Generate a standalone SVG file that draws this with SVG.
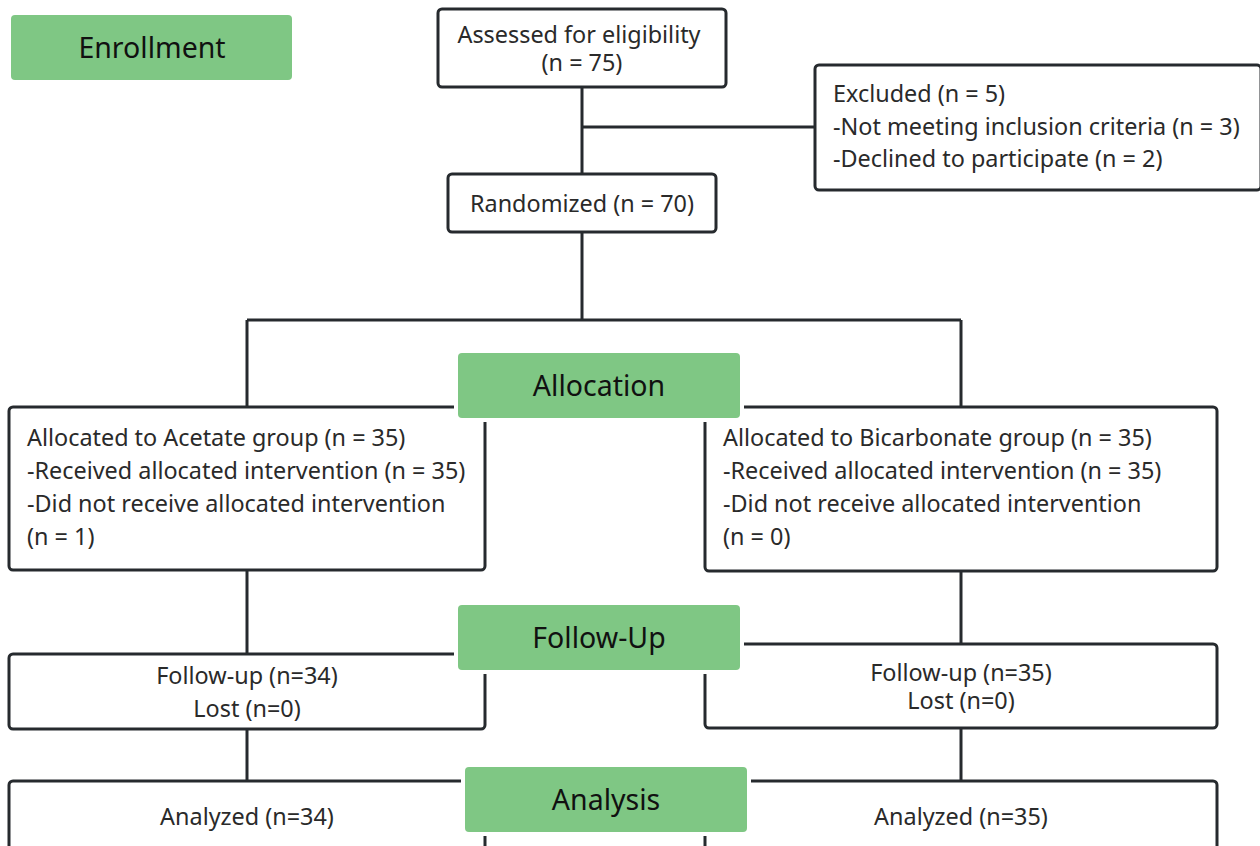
<svg xmlns="http://www.w3.org/2000/svg" width="1260" height="846" viewBox="0 0 1260 846">
<style>
.box{fill:#fff;stroke:#262a2e;stroke-width:3}
.ln{fill:none;stroke:#262a2e;stroke-width:3}
.lbl{fill:#7fc784;stroke:#fff;stroke-width:8;paint-order:stroke}
.t{font-family:"Noto Sans","Open Sans",sans-serif;font-size:23.4px;fill:#2a2a2a}
.h{font-family:"Noto Sans","Open Sans",sans-serif;font-size:28.5px;fill:#111;text-anchor:middle}
.c{text-anchor:middle}
</style>
<rect width="1260" height="846" fill="#fff"/>
<g id="connectors">
<path class="ln" d="M582 87V174M582 127H815M582 232V320M247 320H961M247 320V407M961 320V407M247 570V654M961 571V644M247 729V781M961 728V781"/>
</g>
<g id="assessed"><rect class="box" x="438" y="9" width="288" height="78" rx="4"/>
<text class="t c" x="579" y="43">Assessed for eligibility</text><text class="t c" x="582" y="71">(n = 75)</text></g>
<g id="excluded"><rect class="box" x="815" y="65" width="446" height="125" rx="4"/>
<text class="t" x="833" y="102">Excluded (n = 5)</text>
<text class="t" x="833" y="135">-Not meeting inclusion criteria (n = 3)</text>
<text class="t" x="833" y="167">-Declined to participate (n = 2)</text></g>
<g id="randomized"><rect class="box" x="448" y="174" width="268" height="58" rx="4"/>
<text class="t c" x="582" y="212">Randomized (n = 70)</text></g>
<g id="alloc-left"><rect class="box" x="9" y="407" width="476" height="163" rx="4"/>
<text class="t" x="27" y="446">Allocated to Acetate group (n = 35)</text>
<text class="t" x="27" y="479">-Received allocated intervention (n = 35)</text>
<text class="t" x="27" y="512">-Did not receive allocated intervention</text>
<text class="t" x="27" y="545">(n = 1)</text></g>
<g id="alloc-right"><rect class="box" x="705" y="407" width="512" height="164" rx="4"/>
<text class="t" x="723" y="446">Allocated to Bicarbonate group (n = 35)</text>
<text class="t" x="723" y="479">-Received allocated intervention (n = 35)</text>
<text class="t" x="723" y="512">-Did not receive allocated intervention</text>
<text class="t" x="723" y="545">(n = 0)</text></g>
<g id="follow-left"><rect class="box" x="9" y="654" width="476" height="75" rx="4"/>
<text class="t c" x="247" y="684">Follow-up (n=34)</text>
<text class="t c" x="247" y="717">Lost (n=0)</text></g>
<g id="follow-right"><rect class="box" x="705" y="644" width="512" height="84" rx="4"/>
<text class="t c" x="961" y="681">Follow-up (n=35)</text>
<text class="t c" x="961" y="709">Lost (n=0)</text></g>
<g id="analyzed-left"><rect class="box" x="9" y="781" width="476" height="80" rx="4"/>
<text class="t c" x="247" y="825">Analyzed (n=34)</text></g>
<g id="analyzed-right"><rect class="box" x="705" y="781" width="512" height="80" rx="4"/>
<text class="t c" x="961" y="825">Analyzed (n=35)</text></g>
<g id="enrollment"><rect class="lbl" x="11" y="15" width="281" height="65" rx="4"/><text class="h" x="152" y="58">Enrollment</text></g>
<g id="allocation"><rect class="lbl" x="458" y="353" width="282" height="65" rx="4"/><text class="h" x="599" y="396">Allocation</text></g>
<g id="followup"><rect class="lbl" x="458" y="605" width="282" height="65" rx="4"/><text class="h" x="599" y="648">Follow-Up</text></g>
<g id="analysis"><rect class="lbl" x="465" y="767" width="282" height="65" rx="4"/><text class="h" x="606" y="810">Analysis</text></g>
</svg>
